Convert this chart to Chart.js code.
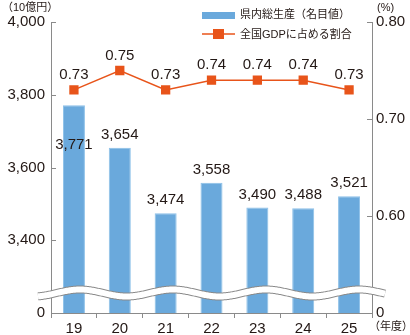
<!DOCTYPE html>
<html>
<head>
<meta charset="utf-8">
<script src="https://cdn.jsdelivr.net/npm/chart.js@4.4.1/dist/chart.umd.min.js"></script>
<style>
  body { margin: 0; background: #fff; }
</style>
</head>
<body>
<canvas id="gdpChart" width="410" height="335"></canvas>
<script>
// 県内総生産と全国GDPに占める割合
const years = ['19', '20', '21', '22', '23', '24', '25'];
const gdpValues = [3771, 3654, 3474, 3558, 3490, 3488, 3521];
const shareValues = [0.73, 0.75, 0.73, 0.74, 0.74, 0.74, 0.73];
// 軸は途中を省略しているので、一番下の目盛りを 0 と表示する
const gdpAxis = { min: 3200, max: 4000, step: 200 };
const shareAxis = { min: 0.5, max: 0.8, step: 0.1 };

const FONT = '"Liberation Sans", "Noto Sans CJK JP", sans-serif';
const INK = '#231815';
const AXIS = '#8a8a8a';
const BLUE = '#6aa9dc';
const ORANGE = '#e8541a';

const fmt = v => v.toLocaleString('en-US');

const overlay = {
  id: 'overlay',
  afterDatasetsDraw(chart) {
    const ctx = chart.ctx;
    const area = chart.chartArea;
    const yL = chart.scales.y;
    const yR = chart.scales.y1;

    // 目盛り線（内向き）
    ctx.save();
    ctx.strokeStyle = AXIS;
    ctx.lineWidth = 1;
    yL.ticks.forEach((t, i) => {
      const y = Math.round(yL.getPixelForTick(i)) + 0.5;
      ctx.beginPath();
      ctx.moveTo(area.left, y);
      ctx.lineTo(area.left + 5, y);
      ctx.stroke();
    });
    yR.ticks.forEach((t, i) => {
      const y = Math.round(yR.getPixelForTick(i)) + 0.5;
      ctx.beginPath();
      ctx.moveTo(area.right, y);
      ctx.lineTo(area.right - 5, y);
      ctx.stroke();
    });
    ctx.restore();

    // 省略記号の波線
    const wy = 293, amp = 3.5, period = 93;
    const x0 = area.left - 13, x1 = area.right + 13;
    const wave = () => {
      ctx.beginPath();
      for (let x = x0; x <= x1; x += 1) {
        const y = wy - amp * Math.cos(2 * Math.PI * (x - 80) / period);
        if (x === x0) ctx.moveTo(x, y); else ctx.lineTo(x, y);
      }
    };
    ctx.save();
    wave();
    ctx.strokeStyle = AXIS;
    ctx.lineWidth = 8;
    ctx.stroke();
    wave();
    ctx.strokeStyle = '#fff';
    ctx.lineWidth = 6;
    ctx.stroke();
    ctx.restore();

    // 数値ラベル
    const barMeta = chart.getDatasetMeta(0);
    const lineMeta = chart.getDatasetMeta(1);
    ctx.save();
    ctx.font = '15px ' + FONT;
    ctx.fillStyle = INK;
    ctx.textAlign = 'center';
    ctx.textBaseline = 'middle';
    lineMeta.data.forEach((pt, i) => {
      ctx.fillText(shareValues[i].toFixed(2), pt.x, pt.y - 15);
    });
    barMeta.data.forEach((bar, i) => {
      const pointY = lineMeta.data[i].y;
      let y = bar.y - 13;
      if (y < pointY + 30) y = bar.y + 40;  // 折れ線のラベルと重なる場合は棒の中へ
      ctx.fillText(fmt(gdpValues[i]), bar.x, y);
    });
    ctx.restore();
  },
  afterDraw(chart) {
    const ctx = chart.ctx;
    ctx.save();
    ctx.fillStyle = INK;
    ctx.textBaseline = 'middle';
    ctx.font = '11px ' + FONT;
    ctx.textAlign = 'left';
    ctx.fillText('（10億円）', 2, 8);
    ctx.fillText('(%)', 377, 8);
    ctx.fillText('（年度）', 369, 327);

    // 凡例
    ctx.fillStyle = BLUE;
    ctx.fillRect(202, 12, 33, 7);
    ctx.strokeStyle = ORANGE;
    ctx.lineWidth = 1.5;
    ctx.beginPath();
    ctx.moveTo(202, 34);
    ctx.lineTo(235, 34);
    ctx.stroke();
    ctx.fillStyle = ORANGE;
    ctx.fillRect(213, 29, 11, 10);
    ctx.fillStyle = INK;
    ctx.fillText(chart.data.datasets[0].label, 240, 15);
    ctx.fillText(chart.data.datasets[1].label, 240, 35);
    ctx.restore();
  }
};

new Chart(document.getElementById('gdpChart'), {
  data: {
    labels: years,
    datasets: [
      {
        type: 'bar',
        label: '県内総生産（名目値）',
        data: gdpValues,
        yAxisID: 'y',
        backgroundColor: BLUE,
        borderColor: '#8cc0e8',
        borderWidth: 1,
        categoryPercentage: 1,
        barPercentage: 0.48,
        order: 1
      },
      {
        type: 'line',
        label: '全国GDPに占める割合',
        data: shareValues,
        yAxisID: 'y1',
        borderColor: ORANGE,
        backgroundColor: ORANGE,
        borderWidth: 1.5,
        pointStyle: 'rect',
        pointRadius: 5.5,
        pointHoverRadius: 5.5,
        tension: 0,
        order: 0
      }
    ]
  },
  options: {
    responsive: false,
    animation: false,
    layout: { padding: { top: 22, left: 0, right: 0, bottom: 0 } },
    plugins: {
      legend: { display: false },
      tooltip: { enabled: false }
    },
    scales: {
      x: {
        offset: true,
        grid: {
          offset: true,
          drawOnChartArea: false,
          color: AXIS,
          tickLength: 5
        },
        border: { color: AXIS },
        ticks: { color: INK, padding: 2, font: { family: FONT, size: 15 } },
        afterFit: s => { s.height = 22; }
      },
      y: {
        position: 'left',
        min: gdpAxis.min,
        max: gdpAxis.max,
        grid: { display: false, drawTicks: false },
        border: { display: true, color: AXIS },
        ticks: {
          stepSize: gdpAxis.step,
          padding: 6,
          color: INK,
          font: { family: FONT, size: 15 },
          callback: v => (v === gdpAxis.min ? '0' : fmt(v))
        },
        afterFit: s => { s.width = 51; }
      },
      y1: {
        position: 'right',
        min: shareAxis.min,
        max: shareAxis.max,
        grid: { display: false, drawTicks: false },
        border: { display: true, color: AXIS },
        ticks: {
          stepSize: shareAxis.step,
          padding: 4,
          color: INK,
          font: { family: FONT, size: 15 },
          callback: v => (Math.abs(v - shareAxis.min) < 1e-6 ? '0' : v.toFixed(2))
        },
        afterFit: s => { s.width = 38; }
      }
    }
  },
  plugins: [overlay]
});
</script>
</body>
</html>
